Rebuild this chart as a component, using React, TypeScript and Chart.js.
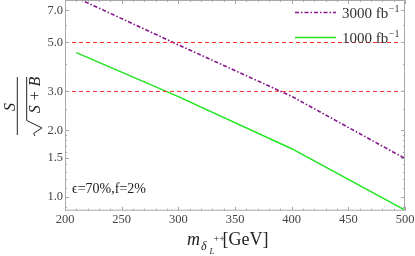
import React, { useEffect, useRef } from "react";
import { Chart, registerables } from "chart.js";

Chart.register(...registerables);

// ---- data ----
const masses = [210, 300, 400, 500];
const lumi3000 = [7.98, 4.88, 2.85, 1.49];
const lumi1000 = [4.5, 2.84, 1.65, 0.87];
const thresholds = [5.0, 3.0];
const xRange = [200, 500];
const yRange = [0.864, 7.79];
const xMajorTicks = [200, 250, 300, 350, 400, 450, 500];
const xMinorTicks = [
  210, 220, 230, 240, 260, 270, 280, 290, 310, 320, 330, 340, 360, 370, 380,
  390, 410, 420, 430, 440, 460, 470, 480, 490,
];
const yMajorTicks = [1.0, 1.5, 2.0, 3.0, 5.0, 7.0];
const yMinorTicks = [0.9, 1.1, 1.2, 1.3, 1.4, 1.6, 1.7, 1.8, 1.9, 2.5, 4.0, 6.0];
const seriesNames = ["3000", "1000"];
const annotationText = "ϵ=70%,f=2%";

const SERIF = '"Liberation Serif", "Times New Roman", "DejaVu Serif", serif';
const PURPLE = "#84168a";
const GREEN = "#22e622";
const RED = "#ff3030";
const PURPLE_DASH = [4, 2, 1.5, 2];

Chart.defaults.font.family = SERIF;

const decorPlugin = {
  id: "decor",
  afterDatasetsDraw(chart: any) {
    const ctx = chart.ctx;
    const { left, right, top, bottom } = chart.chartArea;
    const xs = chart.scales.x;
    const ys = chart.scales.y;
    ctx.save();
    ctx.strokeStyle = "#a8a8a8";
    ctx.lineWidth = 1;
    ctx.beginPath();
    ctx.rect(left + 0.5, top + 0.5, right - left - 1, bottom - top - 1);
    ctx.stroke();
    ctx.beginPath();
    const tickX = (vals: number[], len: number) => {
      vals.forEach((v) => {
        const px = Math.round(xs.getPixelForValue(v)) + 0.5;
        ctx.moveTo(px, bottom);
        ctx.lineTo(px, bottom - len);
        ctx.moveTo(px, top);
        ctx.lineTo(px, top + len);
      });
    };
    const tickY = (vals: number[], len: number) => {
      vals.forEach((v) => {
        const py = Math.round(ys.getPixelForValue(v)) + 0.5;
        ctx.moveTo(left, py);
        ctx.lineTo(left + len, py);
        ctx.moveTo(right, py);
        ctx.lineTo(right - len, py);
      });
    };
    tickX(xMajorTicks, 4);
    tickX(xMinorTicks, 2);
    tickY(yMajorTicks, 4);
    tickY(yMinorTicks, 2);
    ctx.stroke();
    ctx.restore();
  },
  afterDraw(chart: any) {
    const ctx = chart.ctx;
    ctx.save();
    // legend
    const legendRows = [
      { name: seriesNames[0], color: PURPLE, dash: PURPLE_DASH, y: 12.5 },
      { name: seriesNames[1], color: GREEN, dash: [], y: 37.5 },
    ];
    legendRows.forEach((r) => {
      ctx.strokeStyle = r.color;
      ctx.lineWidth = 1.6;
      ctx.setLineDash(r.dash);
      ctx.beginPath();
      ctx.moveTo(295, r.y);
      ctx.lineTo(336, r.y);
      ctx.stroke();
      ctx.setLineDash([]);
      ctx.fillStyle = "#333";
      ctx.textBaseline = "alphabetic";
      ctx.textAlign = "left";
      ctx.font = `15px ${SERIF}`;
      const t = `${r.name} fb`;
      ctx.fillText(t, 342, r.y + 5);
      const w = ctx.measureText(t).width;
      ctx.font = `10px ${SERIF}`;
      ctx.fillText("−1", 342 + w + 0.5, r.y - 1);
    });
    // annotation
    ctx.fillStyle = "#222";
    ctx.font = `14px ${SERIF}`;
    ctx.fillText(annotationText, 72, 193);

    // x-axis label
    ctx.fillStyle = "#222";
    ctx.font = `italic 18px ${SERIF}`;
    ctx.fillText("m", 187, 245);
    ctx.font = `italic 12px ${SERIF}`;
    ctx.fillText("δ", 201, 249.5);
    ctx.font = `italic 8.5px ${SERIF}`;
    ctx.fillText("L", 209.5, 253.5);
    ctx.font = `10px ${SERIF}`;
    ctx.fillText("++", 213.5, 242);
    ctx.font = `18px ${SERIF}`;
    ctx.fillText("[GeV]", 222.5, 245);

    // y-axis label (fraction S / sqrt(S+B))
    ctx.translate(0, 106);
    ctx.rotate(-Math.PI / 2);
    ctx.textAlign = "center";
    ctx.font = `italic 16px ${SERIF}`;
    ctx.fillText("S", -1, 14.5);
    ctx.fillRect(-29, 16.8, 58, 1);
    ctx.fillText("S + B", 11, 40);
    ctx.strokeStyle = "#222";
    ctx.lineWidth = 1;
    ctx.beginPath();
    ctx.moveTo(-30, 35);
    ctx.lineTo(-27.5, 33.5);
    ctx.lineTo(-22, 42);
    ctx.lineTo(-14.5, 26.7);
    ctx.lineTo(29, 26.7);
    ctx.stroke();
    ctx.restore();
  },
};

export default function App() {
  const ref = useRef<HTMLCanvasElement | null>(null);
  useEffect(() => {
    if (!ref.current) return;
    const chart = new Chart(ref.current, {
      type: "line",
      data: {
        datasets: [
          ...thresholds.map((t) => ({
            data: [
              { x: xRange[0], y: t },
              { x: xRange[1], y: t },
            ],
            borderColor: RED,
            borderWidth: 1,
            borderDash: [4, 3],
            pointRadius: 0,
          })),
          {
            data: masses.map((m, i) => ({ x: m, y: lumi3000[i] })),
            borderColor: PURPLE,
            borderWidth: 1.6,
            borderDash: PURPLE_DASH,
            pointRadius: 0,
          },
          {
            data: masses.map((m, i) => ({ x: m, y: lumi1000[i] })),
            borderColor: GREEN,
            borderWidth: 1.5,
            pointRadius: 0,
          },
        ],
      },
      options: {
        animation: false,
        responsive: false,
        events: [],
        layout: { padding: { left: 0, right: 10, top: 0, bottom: 0 } },
        plugins: { legend: { display: false }, tooltip: { enabled: false } },
        scales: {
          x: {
            type: "linear",
            min: xRange[0],
            max: xRange[1],
            afterBuildTicks: (s: any) => {
              s.ticks = xMajorTicks.map((v) => ({ value: v }));
            },
            afterFit: (s: any) => {
              s.height = 45.3;
              s.paddingLeft = 0;
              s.paddingRight = 0;
            },
            ticks: {
              autoSkip: false,
              maxRotation: 0,
              padding: 2,
              color: "#444",
              font: { family: SERIF, size: 12.5 },
            },
            grid: { display: false, drawTicks: false },
            border: { display: false },
          },
          y: {
            type: "logarithmic",
            min: yRange[0],
            max: yRange[1],
            afterBuildTicks: (s: any) => {
              s.ticks = yMajorTicks.map((v) => ({ value: v }));
            },
            afterFit: (s: any) => {
              s.width = 65;
              s.paddingTop = 0;
              s.paddingBottom = 0;
            },
            ticks: {
              autoSkip: false,
              padding: 2,
              color: "#444",
              font: { family: SERIF, size: 12.5 },
              callback: (v: any) => Number(v).toFixed(1),
            },
            grid: { display: false, drawTicks: false },
            border: { display: false },
          },
        },
      },
      plugins: [decorPlugin],
    });
    return () => chart.destroy();
  }, []);
  return (
    <div style={{ position: "fixed", left: 0, top: 0, width: 415, height: 256, background: "#fff" }}>
      <canvas ref={ref} width={415} height={256} />
    </div>
  );
}
